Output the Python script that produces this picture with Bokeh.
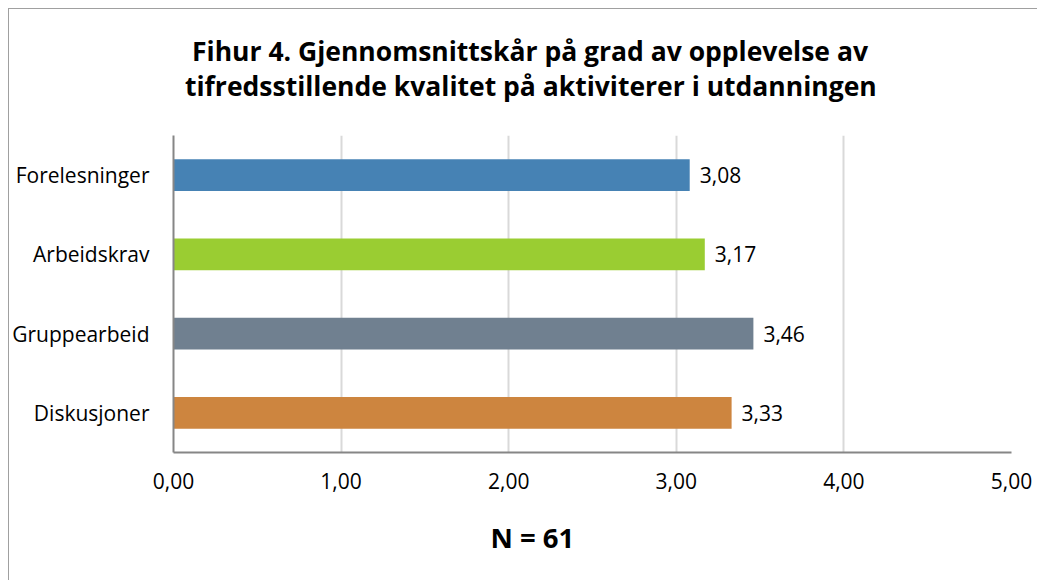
from bokeh.plotting import figure
from bokeh.models import Title, ColumnDataSource, FixedTicker
from bokeh.core.properties import value
from bokeh.embed import file_html
from bokeh.resources import INLINE

categories = ["Forelesninger", "Arbeidskrav", "Gruppearbeid", "Diskusjoner"]
scores = [3.08, 3.17, 3.46, 3.33]
bar_colors = ["#4682B4", "#9ACD32", "#708090", "#CD853F"]
x_ticks = [0, 1, 2, 3, 4, 5]
x_tick_labels = ["0,00", "1,00", "2,00", "3,00", "4,00", "5,00"]
title_lines = ["Fihur 4. Gjennomsnittskår  på grad av opplevelse av",
               "tifredsstillende kvalitet på aktiviterer i utdanningen"]
n_text = "N = 61"

FONT = "Open Sans"

src = ColumnDataSource(dict(
    cat=categories,
    val=scores,
    color=bar_colors,
    lab=[f"{v:.2f}".replace(".", ",") for v in scores],
))

p = figure(width=1029, height=572, output_backend="svg", toolbar_location=None,
           y_range=list(reversed(categories)), x_range=(0, 5),
           min_border_left=161, min_border_right=27, min_border_top=126,
           min_border_bottom=129)
p.styles = {"margin-left": "8px", "margin-top": "8px",
            "border-left": "1px solid #a0a0a0", "border-top": "1px solid #a0a0a0"}
p.outline_line_color = None
p.background_fill_color = "white"
p.border_fill_color = "white"
p.y_range.range_padding = 0

p.hbar(y="cat", right="val", left=0, height=0.4, color="color", source=src,
       line_color=None)
p.text(x="val", y="cat", text="lab", source=src, x_offset=10,
       text_baseline="middle", text_align="left", text_font=value(FONT),
       text_font_size="21px", text_color="#000000")

p.xaxis.ticker = FixedTicker(ticks=x_ticks)
p.xaxis.major_label_overrides = {t: s for t, s in zip(x_ticks, x_tick_labels)}
for ax in (p.xaxis[0], p.yaxis[0]):
    ax.axis_line_color = "#868686"
    ax.axis_line_width = 2
    ax.major_tick_line_color = None
    ax.minor_tick_line_color = None
    ax.major_tick_out = 0
    ax.major_tick_in = 0
    ax.major_label_text_font = FONT
    ax.major_label_text_color = "#000000"
p.xaxis.major_label_text_font_size = "21px"
p.xaxis.major_label_standoff = 20
p.yaxis.major_label_text_font_size = "21px"
p.yaxis.major_label_standoff = 24

p.xgrid.grid_line_color = "#d9d9d9"
p.xgrid.grid_line_width = 2
p.ygrid.grid_line_color = None

# titles stack outward from the frame: second line first
for txt, off, so in zip(reversed(title_lines), [11.5, 18.5], [64, -70]):
    p.add_layout(Title(text=txt, align="left", offset=off,
                       text_font=FONT, text_font_style="bold", text_font_size="26.5px",
                       text_color="#000000", standoff=so), "above")
p.add_layout(Title(text=n_text, align="left", offset=317,
                   text_font=FONT, text_font_style="bold", text_font_size="27.5px",
                   text_color="#000000", standoff=50), "below")

open("out.html", "w").write(file_html(p, INLINE))
